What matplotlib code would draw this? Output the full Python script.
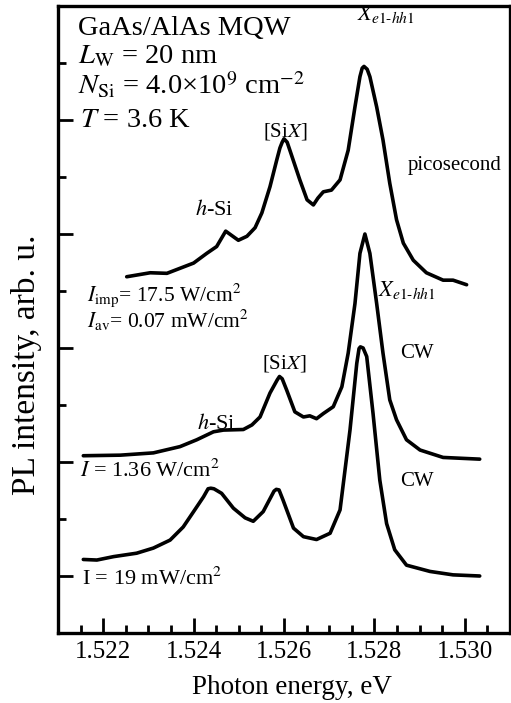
import matplotlib
matplotlib.use("Agg")
import matplotlib.pyplot as plt
from matplotlib.ticker import MultipleLocator

plt.rcParams['font.family'] = ['Liberation Serif', 'DejaVu Serif']
plt.rcParams['mathtext.fontset'] = 'stix'

# ---------------- data ----------------
pico_x = [1.52252, 1.52304, 1.52341, 1.52400, 1.52429, 1.52451, 1.52471, 1.52499,
          1.52518, 1.52536, 1.52551, 1.52569, 1.52584, 1.52591, 1.52596, 1.52600,
          1.52607, 1.52613,
          1.52635, 1.52651, 1.52665, 1.52675, 1.52687, 1.52705, 1.52724, 1.52742,
          1.52757, 1.52768, 1.52773, 1.52777, 1.52784, 1.52790, 1.52805, 1.52819,
          1.52834, 1.52849, 1.52864, 1.52886, 1.52915, 1.52952, 1.52974, 1.53004]
pico_y = [6.25, 6.32, 6.31, 6.49, 6.66, 6.78, 7.05, 6.89,
          6.96, 7.11, 7.37, 7.83, 8.30, 8.51, 8.61, 8.67,
          8.61, 8.47,
          7.95, 7.60, 7.51, 7.63, 7.74, 7.77, 7.95, 8.47,
          9.23, 9.76, 9.91, 9.94, 9.89, 9.76, 9.23, 8.65,
          7.89, 7.25, 6.84, 6.54, 6.32, 6.19, 6.19, 6.11]

cw1_x = [1.52156, 1.52238, 1.52311, 1.52370, 1.52407, 1.52444, 1.52466, 1.52510,
         1.52529, 1.52547, 1.52569, 1.52585, 1.52590, 1.52596, 1.52606, 1.52624,
         1.52643, 1.52657,
         1.52672, 1.52687, 1.52709, 1.52728, 1.52742, 1.52757, 1.52768, 1.52779,
         1.52790, 1.52805, 1.52819, 1.52834, 1.52849, 1.52871, 1.52901, 1.52952,
         1.53033]
cw1_y = [3.11, 3.12, 3.16, 3.27, 3.39, 3.53, 3.56, 3.57,
         3.65, 3.79, 4.21, 4.44, 4.50, 4.46, 4.26, 3.88,
         3.79, 3.81,
         3.76, 3.85, 3.97, 4.32, 4.91, 5.78, 6.66, 7.00,
         6.66, 5.78, 4.91, 4.09, 3.74, 3.39, 3.21, 3.08,
         3.05]

cw2_x = [1.52156, 1.52186, 1.52223, 1.52274, 1.52311, 1.52348, 1.52377, 1.52400,
         1.52422, 1.52432, 1.52438, 1.52445, 1.52462, 1.52488, 1.52514, 1.52532,
         1.52554, 1.52578, 1.52583, 1.52589, 1.52598, 1.52621, 1.52643, 1.52672,
         1.52702, 1.52724, 1.52746, 1.52761, 1.52766, 1.52769, 1.52775, 1.52783,
         1.52797, 1.52812, 1.52827, 1.52845, 1.52871, 1.52923, 1.52974, 1.53033]
cw2_y = [1.29, 1.28, 1.34, 1.40, 1.49, 1.63, 1.86, 2.13,
         2.39, 2.53, 2.54, 2.53, 2.45, 2.19, 2.02, 1.96,
         2.13, 2.49, 2.52, 2.51, 2.33, 1.84, 1.69, 1.64,
         1.75, 2.16, 3.56, 4.73, 4.99, 5.02, 5.00, 4.85,
         3.85, 2.68, 1.92, 1.46, 1.19, 1.08, 1.02, 1.00]

x_ticks = [1.522, 1.524, 1.526, 1.528, 1.530]
x_ticklabels = ["1.522", "1.524", "1.526", "1.528", "1.530"]

# ---------------- figure ----------------
W, H = 511, 703
fig = plt.figure(figsize=(W / 100, H / 100), dpi=100)
ax = fig.add_axes([58 / W, 1 - 633 / H, (510 - 58) / W, (633 - 6) / H])

lw = 2.6
for xs, ys in [(pico_x, pico_y), (cw1_x, cw1_y), (cw2_x, cw2_y)]:
    ax.plot(xs, ys, color='black', lw=lw, solid_joinstyle='round', solid_capstyle='round')

ax.set_xlim(1.521, 1.531)
ax.set_ylim(0, 11)
ax.set_xticks(x_ticks)
ax.set_xticklabels(x_ticklabels)
ax.xaxis.set_minor_locator(MultipleLocator(0.0005))
ax.set_yticks([1, 3, 5, 7, 9])
ax.set_yticks([2, 4, 6, 8, 10], minor=True)
ax.set_yticklabels([])

ax.tick_params(axis='both', which='major', direction='in', length=11, width=2)
ax.tick_params(axis='both', which='minor', direction='in', length=6, width=2)
ax.tick_params(axis='x', which='both', top=False)
ax.tick_params(axis='y', which='both', right=False)
ax.tick_params(axis='x', labelsize=18, pad=6)
for s in ax.spines.values():
    s.set_linewidth(2.4)

fig.text(292 / W, 1 - 688 / H, "Photon energy, eV", fontsize=19.5, ha='center', va='center')
fig.text(27 / W, 1 - 365 / H, "PL intensity, arb. u.", fontsize=24, ha='center', va='center',
         rotation=90)


def ftext(px, py, s, size, **kw):
    fig.text(px / W, 1 - py / H, s, fontsize=size, ha='left', va='baseline', **kw)


ftext(78, 35, "GaAs/AlAs MQW", 20.5)
ftext(78, 63, r"$L_{\rm W}$ = 20 nm", 20.5)
ftext(78, 94, r"$N_{\rm Si}$ = 4.0×10$^9$ cm$^{-2}$", 20.5)
ftext(80, 127, r"$T$ = 3.6 K", 20.5)

xlab = r"$X_{e\mathrm{1}\text{-}hh\mathrm{1}}$"
ftext(357, 20, xlab, 16)
ftext(263, 136, r"[Si$X$]", 15)
ftext(408, 170, "picosecond", 15)
ftext(195, 215, r"$h$-Si", 16)
ftext(87, 301, r"$I_{\rm imp}$= 17.5 W/cm$^2$", 15.5)
ftext(87, 328, r"$I_{\rm av}$= 0.07 mW/cm$^2$", 15.5)

ftext(378, 296, xlab, 16)
ftext(400, 358, "CW", 15)
ftext(262, 369, r"[Si$X$]", 15)
ftext(197, 429, r"$h$-Si", 16)
ftext(80, 477, r"$I$ = 1.36 W/cm$^2$", 16)

ftext(400, 486, "CW", 15)
ftext(82, 585, r"I = 19 mW/cm$^2$", 16)

fig.savefig("out.png", dpi=100)
